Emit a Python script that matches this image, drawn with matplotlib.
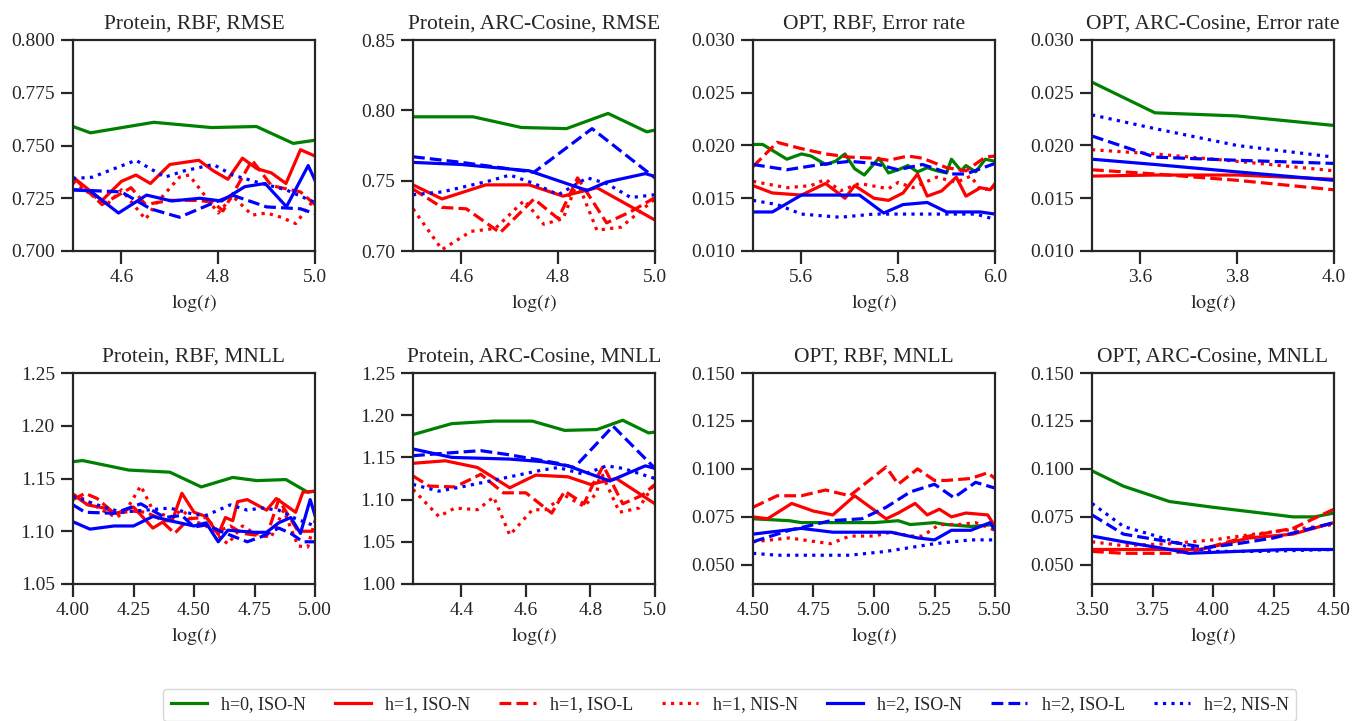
import matplotlib
matplotlib.use('Agg')
import matplotlib.pyplot as plt

# series labels / styles (legend order)
labels = ['h=0, ISO-N', 'h=1, ISO-N', 'h=1, ISO-L', 'h=1, NIS-N',
          'h=2, ISO-N', 'h=2, ISO-L', 'h=2, NIS-N']
colors = ['green', 'red', 'red', 'red', 'blue', 'blue', 'blue']
styles = ['-', '-', '--', ':', '-', '--', ':']

titles = ['Protein, RBF, RMSE', 'Protein, ARC-Cosine, RMSE',
          'OPT, RBF, Error rate', 'OPT, ARC-Cosine, Error rate',
          'Protein, RBF, MNLL', 'Protein, ARC-Cosine, MNLL',
          'OPT, RBF, MNLL', 'OPT, ARC-Cosine, MNLL']

# ---- panel 1: Protein, RBF, RMSE ----
p1_h0 = [(4.5, 0.759), (4.536, 0.756), (4.667, 0.761), (4.786, 0.7585), (4.879, 0.759), (4.955, 0.751), (5.0, 0.7525)]
p1_h1_iso_n = [(4.5, 0.735), (4.56, 0.724), (4.6, 0.733), (4.63, 0.736), (4.66, 0.732), (4.70, 0.741), (4.76, 0.743),
               (4.79, 0.738), (4.82, 0.734), (4.85, 0.744), (4.88, 0.739), (4.91, 0.737), (4.94, 0.732), (4.97, 0.748), (5.0, 0.745)]
p1_h1_iso_l = [(4.5, 0.735), (4.56, 0.722), (4.62, 0.730), (4.65, 0.722), (4.70, 0.724), (4.76, 0.724), (4.79, 0.723),
               (4.81, 0.719), (4.83, 0.727), (4.87, 0.743), (4.91, 0.731), (4.95, 0.729), (4.97, 0.728), (5.0, 0.722)]
p1_h1_nis_n = [(4.5, 0.733), (4.53, 0.728), (4.57, 0.722), (4.6, 0.729), (4.65, 0.715), (4.67, 0.722), (4.72, 0.735),
               (4.74, 0.736), (4.77, 0.727), (4.80, 0.718), (4.83, 0.726), (4.87, 0.717), (4.90, 0.718), (4.93, 0.716),
               (4.96, 0.713), (5.0, 0.725)]
p1_h2_iso_n = [(4.5, 0.729), (4.535, 0.7285), (4.594, 0.718), (4.652, 0.7265), (4.704, 0.7237), (4.762, 0.725),
               (4.807, 0.7237), (4.855, 0.7305), (4.897, 0.732), (4.941, 0.721), (4.986, 0.7405), (5.0, 0.7335)]
p1_h2_iso_l = [(4.5, 0.729), (4.60, 0.728), (4.66, 0.720), (4.72, 0.716), (4.79, 0.7228), (4.83, 0.7264),
               (4.90, 0.7209), (4.97, 0.720), (5.0, 0.7177)]
p1_h2_nis_n = [(4.5, 0.7343), (4.54, 0.735), (4.63, 0.743), (4.69, 0.735), (4.73, 0.738), (4.79, 0.741),
               (4.83, 0.736), (4.89, 0.732), (4.94, 0.729), (5.0, 0.723)]

# ---- panel 2: Protein, ARC-Cosine, RMSE ----
p2_h0 = [(4.5, 0.7954), (4.624, 0.7954), (4.724, 0.7878), (4.817, 0.787), (4.903, 0.7978), (4.983, 0.7847), (5.0, 0.786)]
p2_h1_iso_n = [(4.5, 0.747), (4.56, 0.737), (4.65, 0.747), (4.74, 0.747), (4.81, 0.739), (4.88, 0.745), (5.0, 0.722)]
p2_h1_iso_l = [(4.5, 0.744), (4.56, 0.731), (4.61, 0.730), (4.68, 0.713), (4.75, 0.737), (4.80, 0.723),
               (4.84, 0.752), (4.90, 0.720), (4.95, 0.728), (5.0, 0.738)]
p2_h1_nis_n = [(4.5, 0.730), (4.56, 0.701), (4.62, 0.714), (4.67, 0.716), (4.73, 0.736), (4.77, 0.719),
               (4.81, 0.723), (4.84, 0.749), (4.88, 0.7147), (4.93, 0.717), (5.0, 0.737)]
p2_h2_iso_n = [(4.5, 0.763), (4.6, 0.7615), (4.74, 0.757), (4.86, 0.743), (4.90, 0.749), (4.98, 0.755), (5.0, 0.753)]
p2_h2_iso_l = [(4.5, 0.767), (4.6, 0.763), (4.75, 0.756), (4.87, 0.787), (5.0, 0.752)]
p2_h2_nis_n = [(4.5, 0.740), (4.56, 0.742), (4.66, 0.750), (4.70, 0.754), (4.75, 0.748), (4.80, 0.740),
               (4.86, 0.752), (4.90, 0.748), (4.95, 0.738), (5.0, 0.740)]

# ---- panel 3: OPT, RBF, Error rate ----
p3_h0 = [(5.5, 0.0201), (5.52, 0.0201), (5.57, 0.0187), (5.60, 0.0192), (5.62, 0.0190), (5.65, 0.0182),
         (5.67, 0.0185), (5.69, 0.0192), (5.71, 0.0178), (5.73, 0.0172), (5.76, 0.0188), (5.78, 0.0174),
         (5.80, 0.0177), (5.82, 0.0181), (5.84, 0.0175), (5.86, 0.0179), (5.88, 0.0176), (5.90, 0.0174),
         (5.91, 0.0187), (5.93, 0.0176), (5.94, 0.0181), (5.96, 0.0175), (5.98, 0.0187), (6.0, 0.0185)]
p3_h1_iso_n = [(5.5, 0.0162), (5.54, 0.0155), (5.60, 0.0153), (5.65, 0.0164), (5.69, 0.0150), (5.71, 0.0162),
               (5.75, 0.0150), (5.78, 0.0148), (5.81, 0.0155), (5.84, 0.0173), (5.86, 0.0152), (5.89, 0.0157),
               (5.92, 0.0170), (5.94, 0.0152), (5.97, 0.0160), (5.99, 0.0158), (6.0, 0.0164)]
p3_h1_iso_l = [(5.5, 0.0180), (5.55, 0.0203), (5.60, 0.0197), (5.65, 0.0192), (5.70, 0.0189), (5.75, 0.0188),
               (5.78, 0.0186), (5.82, 0.0190), (5.85, 0.0188), (5.90, 0.0179), (5.94, 0.0176), (5.98, 0.0189), (6.0, 0.0190)]
p3_h1_nis_n = [(5.5, 0.0166), (5.57, 0.0160), (5.62, 0.0162), (5.65, 0.0168), (5.68, 0.0157), (5.72, 0.0164),
               (5.78, 0.0159), (5.80, 0.0165), (5.83, 0.0160), (5.88, 0.0170), (5.92, 0.0165), (5.95, 0.0171),
               (5.97, 0.0158), (6.0, 0.0160)]
p3_h2_iso_n = [(5.5, 0.0137), (5.54, 0.0137), (5.60, 0.0153), (5.72, 0.0153), (5.77, 0.0136), (5.81, 0.0144),
               (5.86, 0.0146), (5.90, 0.0137), (5.97, 0.0137), (6.0, 0.0135)]
p3_h2_iso_l = [(5.5, 0.0182), (5.57, 0.0177), (5.64, 0.0182), (5.70, 0.0185), (5.75, 0.0183), (5.80, 0.0177),
               (5.85, 0.0182), (5.91, 0.0173), (5.94, 0.0173), (6.0, 0.0183)]
p3_h2_nis_n = [(5.5, 0.0148), (5.55, 0.0144), (5.60, 0.0135), (5.68, 0.0132), (5.75, 0.0135), (5.90, 0.0135),
               (5.96, 0.0135), (6.0, 0.0130)]

# ---- panel 4: OPT, ARC-Cosine, Error rate ----
p4_h0 = [(3.5, 0.0260), (3.63, 0.0231), (3.8, 0.0228), (4.0, 0.0219)]
p4_h1_iso_n = [(3.5, 0.0171), (3.63, 0.0172), (3.8, 0.0172), (4.0, 0.0168)]
p4_h1_iso_l = [(3.5, 0.0177), (3.63, 0.0173), (3.8, 0.0167), (4.0, 0.0158)]
p4_h1_nis_n = [(3.5, 0.0196), (3.63, 0.0192), (3.8, 0.0185), (4.0, 0.0176)]
p4_h2_iso_n = [(3.5, 0.0187), (3.63, 0.0182), (3.8, 0.0175), (4.0, 0.0167)]
p4_h2_iso_l = [(3.5, 0.0209), (3.63, 0.0189), (3.8, 0.0186), (4.0, 0.0183)]
p4_h2_nis_n = [(3.5, 0.0229), (3.63, 0.0216), (3.8, 0.0200), (4.0, 0.0189)]

# ---- panel 5: Protein, RBF, MNLL ----
p5_h0 = [(4.0, 1.166), (4.04, 1.167), (4.23, 1.158), (4.4, 1.156), (4.53, 1.142), (4.66, 1.151), (4.76, 1.148),
         (4.88, 1.149), (4.97, 1.137), (5.0, 1.138)]
p5_h1_iso_n = [(4.0, 1.135), (4.06, 1.125), (4.13, 1.122), (4.18, 1.117), (4.25, 1.123), (4.29, 1.113),
               (4.33, 1.103), (4.38, 1.110), (4.41, 1.110), (4.45, 1.136), (4.50, 1.118), (4.55, 1.114),
               (4.60, 1.097), (4.63, 1.113), (4.66, 1.110), (4.68, 1.128), (4.72, 1.130), (4.80, 1.120),
               (4.84, 1.131), (4.92, 1.118), (4.95, 1.137), (5.0, 1.138)]
p5_h1_iso_l = [(4.0, 1.130), (4.05, 1.136), (4.10, 1.131), (4.17, 1.117), (4.25, 1.119), (4.30, 1.118),
               (4.35, 1.113), (4.42, 1.098), (4.48, 1.112), (4.55, 1.113), (4.60, 1.100), (4.65, 1.105),
               (4.70, 1.098), (4.80, 1.095), (4.85, 1.130), (4.93, 1.100), (5.0, 1.100)]
p5_h1_nis_n = [(4.0, 1.135), (4.05, 1.130), (4.12, 1.120), (4.18, 1.113), (4.22, 1.120), (4.28, 1.143),
               (4.33, 1.120), (4.40, 1.113), (4.45, 1.120), (4.50, 1.110), (4.55, 1.105), (4.64, 1.088),
               (4.70, 1.105), (4.75, 1.098), (4.82, 1.095), (4.87, 1.120), (4.93, 1.086), (4.97, 1.085), (5.0, 1.110)]
p5_h2_iso_n = [(4.0, 1.109), (4.07, 1.102), (4.17, 1.105), (4.25, 1.105), (4.33, 1.114), (4.42, 1.109),
               (4.50, 1.105), (4.55, 1.108), (4.60, 1.090), (4.64, 1.101), (4.75, 1.099), (4.80, 1.099),
               (4.85, 1.108), (4.90, 1.113), (4.94, 1.098), (4.98, 1.130), (5.0, 1.115)]
p5_h2_iso_l = [(4.0, 1.125), (4.05, 1.118), (4.17, 1.117), (4.28, 1.126), (4.38, 1.113), (4.45, 1.115),
               (4.50, 1.104), (4.55, 1.106), (4.62, 1.099), (4.72, 1.090), (4.78, 1.095), (4.85, 1.103),
               (4.90, 1.098), (4.95, 1.090), (5.0, 1.090)]
p5_h2_nis_n = [(4.0, 1.133), (4.10, 1.125), (4.20, 1.118), (4.30, 1.120), (4.40, 1.122), (4.50, 1.116),
               (4.55, 1.115), (4.65, 1.125), (4.72, 1.120), (4.78, 1.122), (4.85, 1.120), (4.92, 1.112), (5.0, 1.105)]

# ---- panel 6: Protein, ARC-Cosine, MNLL ----
p6_h0 = [(4.25, 1.177), (4.37, 1.190), (4.50, 1.193), (4.62, 1.193), (4.72, 1.182), (4.82, 1.183),
         (4.90, 1.194), (4.98, 1.179), (5.0, 1.180)]
p6_h1_iso_n = [(4.25, 1.143), (4.35, 1.146), (4.45, 1.138), (4.55, 1.114), (4.63, 1.129), (4.73, 1.127),
               (4.80, 1.118), (4.88, 1.125), (5.0, 1.095)]
p6_h1_iso_l = [(4.25, 1.128), (4.30, 1.116), (4.38, 1.115), (4.46, 1.130), (4.53, 1.108), (4.60, 1.108),
               (4.68, 1.084), (4.72, 1.110), (4.78, 1.095), (4.81, 1.120), (4.84, 1.140), (4.90, 1.095),
               (4.96, 1.105), (5.0, 1.118)]
p6_h1_nis_n = [(4.25, 1.112), (4.33, 1.080), (4.38, 1.090), (4.45, 1.088), (4.50, 1.103), (4.55, 1.058),
               (4.62, 1.088), (4.66, 1.088), (4.72, 1.105), (4.78, 1.092), (4.82, 1.108), (4.83, 1.135),
               (4.89, 1.085), (4.95, 1.090), (5.0, 1.120)]
p6_h2_iso_n = [(4.25, 1.160), (4.37, 1.150), (4.55, 1.148), (4.65, 1.145), (4.73, 1.140), (4.86, 1.122),
               (4.97, 1.140), (5.0, 1.137)]
p6_h2_iso_l = [(4.25, 1.152), (4.35, 1.155), (4.46, 1.158), (4.55, 1.153), (4.70, 1.143), (4.75, 1.138),
               (4.87, 1.187), (5.0, 1.137)]
p6_h2_nis_n = [(4.25, 1.118), (4.33, 1.110), (4.40, 1.115), (4.50, 1.123), (4.65, 1.135), (4.70, 1.138),
               (4.78, 1.130), (4.85, 1.140), (4.90, 1.137), (5.0, 1.125)]

# ---- panel 7: OPT, RBF, MNLL ----
p7_h0 = [(4.5, 0.074), (4.65, 0.073), (4.70, 0.072), (5.0, 0.072), (5.10, 0.073), (5.15, 0.071),
         (5.25, 0.072), (5.30, 0.071), (5.40, 0.070), (5.5, 0.071)]
p7_h1_iso_n = [(4.5, 0.075), (4.56, 0.074), (4.66, 0.082), (4.75, 0.078), (4.83, 0.076), (4.92, 0.086),
               (5.05, 0.074), (5.10, 0.077), (5.17, 0.082), (5.22, 0.076), (5.27, 0.079), (5.32, 0.075),
               (5.38, 0.077), (5.47, 0.076), (5.5, 0.070)]
p7_h1_iso_l = [(4.5, 0.080), (4.6, 0.086), (4.7, 0.086), (4.8, 0.089), (4.9, 0.086), (5.05, 0.101),
               (5.10, 0.092), (5.18, 0.100), (5.25, 0.094), (5.30, 0.094), (5.40, 0.095), (5.47, 0.098), (5.5, 0.095)]
p7_h1_nis_n = [(4.5, 0.062), (4.65, 0.064), (4.82, 0.061), (4.90, 0.065), (5.0, 0.065), (5.07, 0.067),
               (5.15, 0.065), (5.20, 0.065), (5.27, 0.071), (5.35, 0.071), (5.42, 0.072), (5.5, 0.068)]
p7_h2_iso_n = [(4.5, 0.066), (4.70, 0.069), (4.83, 0.067), (5.07, 0.067), (5.18, 0.064), (5.25, 0.063),
               (5.32, 0.068), (5.40, 0.068), (5.48, 0.072), (5.5, 0.068)]
p7_h2_iso_l = [(4.5, 0.062), (4.65, 0.068), (4.72, 0.070), (4.82, 0.073), (4.95, 0.074), (5.05, 0.080),
               (5.15, 0.088), (5.25, 0.092), (5.33, 0.085), (5.42, 0.093), (5.5, 0.090)]
p7_h2_nis_n = [(4.5, 0.056), (4.6, 0.055), (4.9, 0.055), (5.05, 0.057), (5.15, 0.059), (5.25, 0.061),
               (5.40, 0.063), (5.5, 0.063)]

# ---- panel 8: OPT, ARC-Cosine, MNLL ----
p8_h0 = [(3.5, 0.099), (3.63, 0.091), (3.82, 0.083), (4.0, 0.080), (4.2, 0.077), (4.33, 0.075),
         (4.42, 0.075), (4.5, 0.077)]
p8_h1_iso_n = [(3.5, 0.058), (3.63, 0.058), (3.82, 0.058), (3.95, 0.058), (4.15, 0.064), (4.33, 0.066), (4.5, 0.072)]
p8_h1_iso_l = [(3.5, 0.057), (3.63, 0.056), (3.82, 0.056), (3.95, 0.058), (4.15, 0.065), (4.33, 0.069), (4.5, 0.079)]
p8_h1_nis_n = [(3.5, 0.062), (3.63, 0.060), (3.82, 0.061), (4.0, 0.063), (4.17, 0.066), (4.3, 0.068), (4.5, 0.071)]
p8_h2_iso_n = [(3.5, 0.065), (3.63, 0.062), (3.82, 0.058), (3.9, 0.056), (4.1, 0.057), (4.3, 0.058), (4.5, 0.058)]
p8_h2_iso_l = [(3.5, 0.076), (3.63, 0.066), (3.82, 0.062), (3.97, 0.059), (4.1, 0.061), (4.25, 0.064), (4.5, 0.072)]
p8_h2_nis_n = [(3.5, 0.082), (3.63, 0.070), (3.82, 0.063), (3.9, 0.059), (4.0, 0.057), (4.2, 0.057), (4.5, 0.058)]

panels = [
    [p1_h0, p1_h1_iso_n, p1_h1_iso_l, p1_h1_nis_n, p1_h2_iso_n, p1_h2_iso_l, p1_h2_nis_n],
    [p2_h0, p2_h1_iso_n, p2_h1_iso_l, p2_h1_nis_n, p2_h2_iso_n, p2_h2_iso_l, p2_h2_nis_n],
    [p3_h0, p3_h1_iso_n, p3_h1_iso_l, p3_h1_nis_n, p3_h2_iso_n, p3_h2_iso_l, p3_h2_nis_n],
    [p4_h0, p4_h1_iso_n, p4_h1_iso_l, p4_h1_nis_n, p4_h2_iso_n, p4_h2_iso_l, p4_h2_nis_n],
    [p5_h0, p5_h1_iso_n, p5_h1_iso_l, p5_h1_nis_n, p5_h2_iso_n, p5_h2_iso_l, p5_h2_nis_n],
    [p6_h0, p6_h1_iso_n, p6_h1_iso_l, p6_h1_nis_n, p6_h2_iso_n, p6_h2_iso_l, p6_h2_nis_n],
    [p7_h0, p7_h1_iso_n, p7_h1_iso_l, p7_h1_nis_n, p7_h2_iso_n, p7_h2_iso_l, p7_h2_nis_n],
    [p8_h0, p8_h1_iso_n, p8_h1_iso_l, p8_h1_nis_n, p8_h2_iso_n, p8_h2_iso_l, p8_h2_nis_n],
]

xlims = [(4.5, 5.0), (4.5, 5.0), (5.5, 6.0), (3.5, 4.0), (4.0, 5.0), (4.25, 5.0), (4.5, 5.5), (3.5, 4.5)]
ylims = [(0.70, 0.80), (0.70, 0.85), (0.010, 0.030), (0.010, 0.030),
         (1.05, 1.25), (1.00, 1.25), (0.04, 0.15), (0.04, 0.15)]
xticks = [[4.6, 4.8, 5.0], [4.6, 4.8, 5.0], [5.6, 5.8, 6.0], [3.6, 3.8, 4.0],
          [4.0, 4.25, 4.5, 4.75, 5.0], [4.4, 4.6, 4.8, 5.0],
          [4.5, 4.75, 5.0, 5.25, 5.5], [3.5, 3.75, 4.0, 4.25, 4.5]]
yticks = [[0.700, 0.725, 0.750, 0.775, 0.800], [0.70, 0.75, 0.80, 0.85],
          [0.010, 0.015, 0.020, 0.025, 0.030], [0.010, 0.015, 0.020, 0.025, 0.030],
          [1.05, 1.10, 1.15, 1.20, 1.25], [1.00, 1.05, 1.10, 1.15, 1.20, 1.25],
          [0.050, 0.075, 0.100, 0.125, 0.150], [0.050, 0.075, 0.100, 0.125, 0.150]]
xfmt = ['%.1f', '%.1f', '%.1f', '%.1f', '%.2f', '%.1f', '%.2f', '%.2f']
yfmt = ['%.3f', '%.2f', '%.3f', '%.3f', '%.2f', '%.2f', '%.3f', '%.3f']

plt.rcParams['font.family'] = ['Liberation Serif', 'DejaVu Serif']
plt.rcParams['mathtext.fontset'] = 'stix'
plt.rcParams['axes.edgecolor'] = '#262626'
plt.rcParams['xtick.color'] = '#262626'
plt.rcParams['ytick.color'] = '#262626'
plt.rcParams['text.color'] = '#262626'
plt.rcParams['axes.labelcolor'] = '#262626'

W, H = 1364, 721
fig = plt.figure(figsize=(W / 100, H / 100), dpi=100)

lefts = [73, 413, 753, 1092]
tops = [40, 373]
aw, ah = 242, 211

handles = []
for i in range(8):
    r, c = divmod(i, 4)
    ax = fig.add_axes([lefts[c] / W, (H - tops[r] - ah) / H, aw / W, ah / H])
    for k, series in enumerate(panels[i]):
        xs = [p[0] for p in series]
        ys = [p[1] for p in series]
        ln, = ax.plot(xs, ys, color=colors[k], linestyle=styles[k], lw=2.3, label=labels[k])
        if i == 0:
            handles.append(ln)
    ax.set_xlim(*xlims[i])
    ax.set_ylim(*ylims[i])
    ax.set_xticks(xticks[i])
    ax.set_yticks(yticks[i])
    ax.set_xticklabels([xfmt[i] % v for v in xticks[i]])
    ax.set_yticklabels([yfmt[i] % v for v in yticks[i]])
    ax.tick_params(direction='out', length=9, width=1.6, labelsize=14, pad=4)
    for s in ax.spines.values():
        s.set_linewidth(1.6)
    ax.set_title(titles[i], fontsize=15.5, pad=8)
    ax.set_xlabel(r'$\log(t)$', fontsize=14.5, labelpad=4)

fig.legend(handles=handles, labels=labels, loc='lower center', bbox_to_anchor=(0.535, -0.012),
           ncol=7, fontsize=13, frameon=True, fancybox=True, edgecolor='#cccccc',
           handlelength=2.0, columnspacing=1.6, borderpad=0.4)

fig.savefig('out.png', dpi=100)
